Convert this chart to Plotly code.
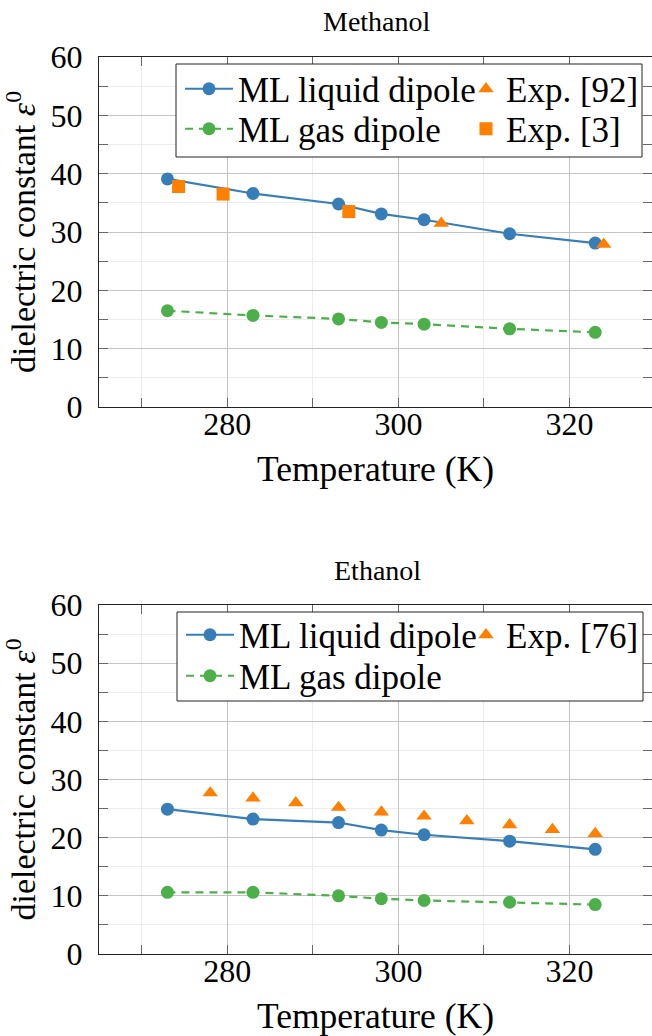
import plotly.graph_objects as go

# Temperatures of the ML simulations (K)
T_ml = [273, 283, 293, 298, 303, 313, 323]

# Methanol: static dielectric constant
meoh_liquid = [39.1, 36.6, 34.8, 33.1, 32.1, 29.7, 28.1]
meoh_gas = [16.5, 15.7, 15.1, 14.5, 14.2, 13.4, 12.8]
meoh_exp92_T = [305.0, 324.0]
meoh_exp92 = [31.5, 27.9]
meoh_exp3_T = [274.3, 279.5, 294.2]
meoh_exp3 = [37.8, 36.5, 33.5]

# Ethanol: static dielectric constant
etoh_liquid = [24.9, 23.2, 22.6, 21.3, 20.5, 19.4, 18.0]
etoh_gas = [10.6, 10.6, 10.0, 9.5, 9.2, 8.9, 8.5]
etoh_exp76_T = [278, 283, 288, 293, 298, 303, 308, 313, 318, 323]
etoh_exp76 = [27.7, 26.8, 26.0, 25.2, 24.4, 23.7, 22.9, 22.2, 21.4, 20.7]

panel_titles = ["Methanol", "Ethanol"]
x_title = "Temperature (K)"
y_title = "dielectric constant <i>ε</i><sup>0</sup>"

BLUE, GREEN, ORANGE = "#377eb8", "#4daf4a", "#ff7f00"
FONT = "'Liberation Serif', serif"
W, H = 652, 1036
ML = 99                      # left margin in px
PW = W - ML                  # plot width in px

def px_x(p):                 # horizontal pixel -> paper fraction
    return (p - ML) / PW

def px_y(p):                 # vertical pixel (from top) -> paper fraction
    return 1 - p / H

# vertical extents of the two panels (px from top)
panels = [(57, 407), (605, 954)]

fig = go.Figure()

def ml_traces(xa, ya, liquid, gas, leg_liq, leg_gas):
    fig.add_trace(go.Scatter(
        x=T_ml, y=liquid, mode="lines+markers", name="ML liquid dipole",
        line=dict(color=BLUE, width=2.2), marker=dict(color=BLUE, size=13),
        xaxis=xa, yaxis=ya, legend=leg_liq))
    fig.add_trace(go.Scatter(
        x=T_ml, y=gas, mode="lines+markers", name="ML gas dipole",
        line=dict(color=GREEN, width=2.2, dash="8px,6px"),
        marker=dict(color=GREEN, size=13),
        xaxis=xa, yaxis=ya, legend=leg_gas))

# Methanol panel
ml_traces("x", "y", meoh_liquid, meoh_gas, "legend", "legend2")
fig.add_trace(go.Scatter(
    x=meoh_exp92_T, y=meoh_exp92, mode="markers", name="Exp. [92]",
    marker=dict(color=ORANGE, size=13.5, symbol="triangle-up"),
    xaxis="x", yaxis="y", legend="legend3"))
fig.add_trace(go.Scatter(
    x=meoh_exp3_T, y=meoh_exp3, mode="markers", name="Exp. [3]",
    marker=dict(color=ORANGE, size=13, symbol="square"),
    xaxis="x", yaxis="y", legend="legend4"))

# Ethanol panel
ml_traces("x2", "y2", etoh_liquid, etoh_gas, "legend5", "legend6")
fig.add_trace(go.Scatter(
    x=etoh_exp76_T, y=etoh_exp76, mode="markers", name="Exp. [76]",
    marker=dict(color=ORANGE, size=13.5, symbol="triangle-up"),
    xaxis="x2", yaxis="y2", legend="legend7"))

tick_font = dict(family=FONT, size=32, color="black")

def axis_style():
    return dict(
        showline=True, linecolor="#222", linewidth=1, mirror="allticks",
        ticks="inside", ticklen=9, tickcolor="#666", tickwidth=1,
        showgrid=True, gridcolor="#c4c4c4", gridwidth=1, zeroline=False,
        tickfont=dict(tick_font), automargin=False,
        minor=dict(ticks="inside", ticklen=9, tickcolor="#666", tickwidth=1,
                   showgrid=True, gridcolor="#ececec", gridwidth=1),
    )

layout = dict(
    width=W, height=H, margin=dict(l=ML, r=0, t=0, b=0),
    paper_bgcolor="white", plot_bgcolor="white",
    font=dict(family=FONT, size=33, color="black"),
    showlegend=True,
)

for i, (top, bot) in enumerate(panels):
    sfx = "" if i == 0 else "2"
    xa = axis_style()
    xa.update(range=[265, 265 + PW / 8.555], tick0=260, dtick=20,
              anchor="y" + sfx, ticklabelstandoff=-11,
              title=dict(text=x_title, standoff=14,
                         font=dict(family=FONT, size=35.5, color="black")))
    xa["minor"]["dtick"] = 10
    ya = axis_style()
    ya.update(range=[0, 60], dtick=10, anchor="x" + sfx,
              domain=[px_y(bot), px_y(top)], ticklabelstandoff=9,
              title=dict(text=y_title, standoff=10,
                         font=dict(family=FONT, size=34, color="black")))
    ya["minor"]["dtick"] = 5
    layout["xaxis" + sfx] = xa
    layout["yaxis" + sfx] = ya

fig.update_layout(**layout)

# panel titles
for name, (top, bot) in zip(panel_titles, panels):
    fig.add_annotation(text=name, xref="paper", yref="paper",
                       x=px_x(377), y=px_y(top - 35), xanchor="center",
                       yanchor="middle", showarrow=False,
                       font=dict(family=FONT, size=28, color="black"))

# legend frames
frames = [(176, 642, 64, 157), (177, 643, 612, 701)]
for x0, x1, y0, y1 in frames:
    fig.add_shape(type="rect", xref="paper", yref="paper",
                  x0=px_x(x0), x1=px_x(x1), y0=px_y(y1), y1=px_y(y0),
                  line=dict(color="#222", width=1), fillcolor="white",
                  layer="above")

# legend entries: (left px, centre px, symbol width)
leg_font = dict(family=FONT, size=35, color="black")
legend_pos = {
    "legend": (180, 89, 48), "legend2": (180, 129, 48),
    "legend3": (466, 89, 30), "legend4": (466, 129, 30),
    "legend5": (181, 635, 48), "legend6": (181, 676, 48),
    "legend7": (466, 635, 30),
}
for lid, (lx, ly, iw) in legend_pos.items():
    fig.update_layout({lid: dict(
        x=px_x(lx), y=px_y(ly), xanchor="left", yanchor="middle",
        xref="paper", yref="paper", bgcolor="rgba(0,0,0,0)",
        borderwidth=0, font=dict(leg_font), itemwidth=iw,
        itemclick=False, itemdoubleclick=False)})

fig.write_html("out.html")
